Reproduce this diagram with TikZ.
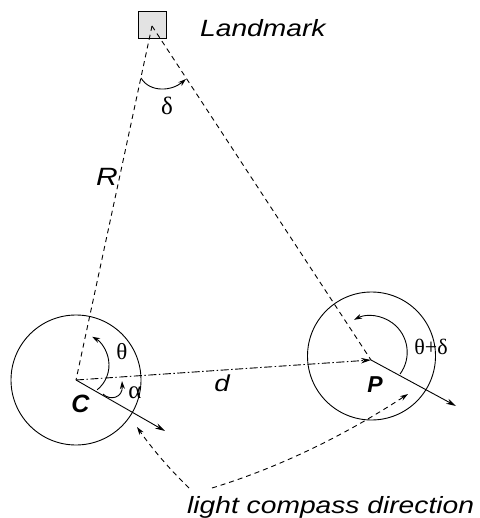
\documentclass[tikz,border=0pt]{standalone}
\usepackage{fontspec}
\setmainfont{Liberation Sans}
\newfontfamily\labfont[FakeStretch=1.2]{Liberation Sans}
\newfontfamily\grkfont{Liberation Serif}
\usetikzlibrary{arrows.meta,calc}
\begin{document}
\begin{tikzpicture}[x=1pt,y=-1pt,
  thinline/.style={line width=0.9pt},
  lmline/.style={thinline, dash pattern=on 5pt off 4pt},
  ddline/.style={thinline, dash pattern=on 8pt off 2.5pt on 1.5pt off 2.5pt},
  bigtip/.style={-{Stealth[length=10pt,width=5.5pt]}},
  smalltip/.style={-{Stealth[length=8pt,width=5pt]}},
  lab/.style={inner sep=0pt, font=\labfont\itshape\fontsize{23.5}{26}\selectfont},
  boldlab/.style={inner sep=0pt, font=\bfseries\itshape\fontsize{25}{28}\selectfont},
  grk/.style={inner sep=0pt, font=\grkfont\fontsize{23}{26}\selectfont},
  ring/.style={circle, draw, thinline, inner sep=0pt}]
\useasboundingbox (0,0) rectangle (479,518);

% points
\coordinate (C) at (76,380);
\coordinate (P) at (371,360);
\coordinate (lmc) at (152,26);
\coordinate (cC) at (165,431);
\coordinate (cP) at (456,406);

% landmark
\node[draw, thinline, fill=gray!22, minimum width=28pt, minimum height=27pt, inner sep=0pt] (lm) at (152,24.5) {};

% circles
\node[ring, minimum size=130pt] (circC) at (76,380) {};
\node[ring, minimum size=128pt] (circP) at (371.5,356) {};

% landmark lines
\draw[lmline] (lmc) -- (C);
\draw[lmline] (lmc) -- (P);

% d line
\draw[ddline, bigtip] (C) -- (P);

% compass directions
\draw[thinline, bigtip] (C) -- (cC);
\draw[thinline, bigtip] (P) -- (cP);

% angle delta at landmark
\coordinate (d1) at (141,78);
\coordinate (d2) at (186,79);
\draw[thinline, smalltip] (d1) .. controls (150,93) and (172,91) .. (d2);

% angle theta at C
\draw[thinline, smalltip] ($(77,365)+(51:32)$) arc[start angle=51, end angle=-62, radius=32];

% angle alpha at C
\coordinate (a1) at (103,394);
\coordinate (a2) at (122,381);
\draw[thinline, smalltip] (a1) .. controls (110,401) and (123,398) .. (a2);

% angle theta+delta at P
\draw[thinline, smalltip] ($(370.7,352.3)+(36.5:36.5)$) arc[start angle=36.5, end angle=-117, radius=36.5];

% light compass direction pointers
\coordinate (l1) at (189,488);
\coordinate (l2) at (212,488);
\coordinate (t1) at (137,427);
\coordinate (t2) at (408,394);
\draw[lmline, smalltip] (l1) .. controls (169.7,469.3) and (152.3,449) .. (t1);
\draw[lmline, smalltip] (l2) .. controls (277.3,468) and (342.7,436.7) .. (t2);

% labels
\node[lab, anchor=base west] (lmlabel) at (200,37) {Landmark};
\node[grk, font=\grkfont\fontsize{25}{28}\selectfont] (dlt) at (167,106) {δ};
\node[lab, font=\labfont\itshape\fontsize{25}{28}\selectfont] (rlab) at (107,177) {R};
\node[grk, font=\grkfont\fontsize{23}{26}\selectfont] (thC) at (122,352) {θ};
\node[grk, font=\grkfont\fontsize{25}{28}\selectfont] (alC) at (135,393) {α};
\node[boldlab] (Clab) at (80.5,403.5) {C};
\node[lab, font=\labfont\itshape\fontsize{23}{26}\selectfont] (dlab) at (222,383) {d};
\node[boldlab, font=\bfseries\itshape\fontsize{23}{26}\selectfont] (Plab) at (375,384.5) {P};
\node[grk, font=\grkfont\fontsize{22}{26}\selectfont] (thP) at (431,347) {θ+δ};
\node[lab, anchor=base west] (lcd) at (187,513) {light compass direction};
\end{tikzpicture}
\end{document}
